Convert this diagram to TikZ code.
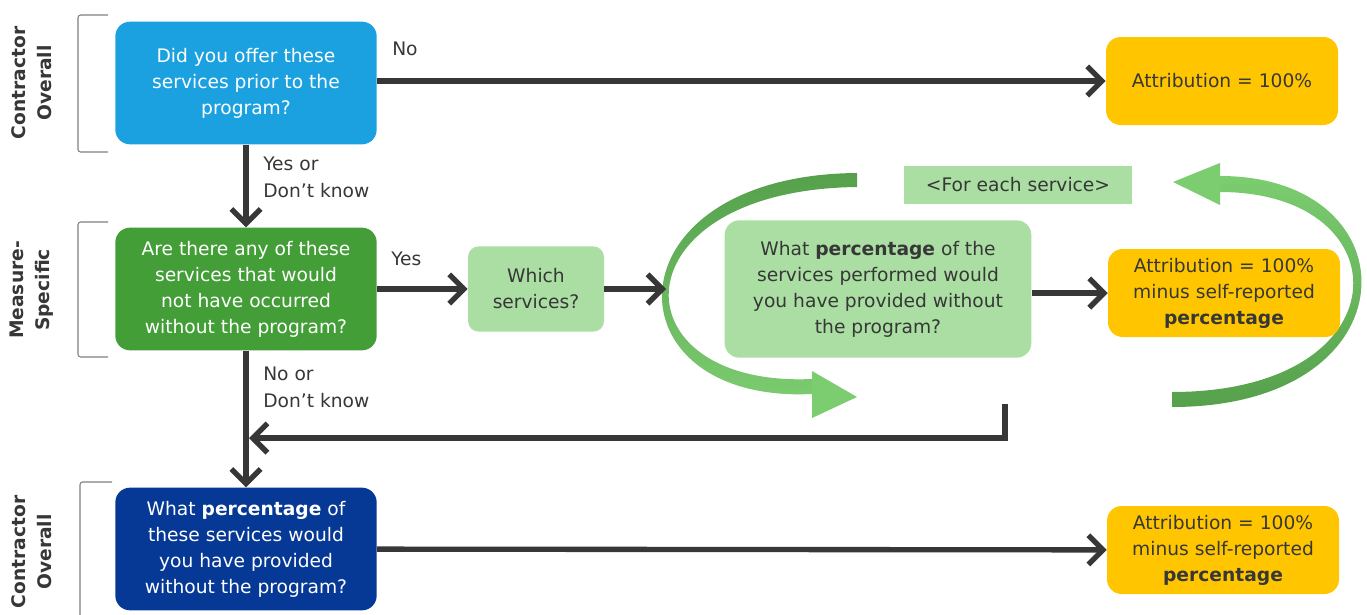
\documentclass[tikz,border=0pt]{standalone}
\usepackage{fontspec}
\setmainfont{DejaVu Sans}
\usetikzlibrary{arrows.meta}
\definecolor{skyblue}{RGB}{27,161,224}
\definecolor{midgreen}{RGB}{67,158,56}
\definecolor{palegreen}{RGB}{170,222,162}
\definecolor{gold}{RGB}{255,198,0}
\definecolor{navy}{RGB}{6,56,150}
\definecolor{darkgray}{RGB}{55,55,55}
\definecolor{loopdark}{RGB}{86,160,76}
\definecolor{looplight}{RGB}{124,204,112}
\begin{document}
\begin{tikzpicture}[x=0.75pt,y=-0.75pt,
    font=\fontsize{14}{19.5}\selectfont,
    box/.style={rounded corners=11pt,inner sep=0pt,align=center},
    question/.style={box,text=white,minimum width=196pt,minimum height=92pt},
    result/.style={box,fill=gold,text=darkgray,minimum width=174pt,minimum height=66pt},
    flow/.style={draw=darkgray,line width=4pt,-{Straight Barb[length=11pt,width=22pt]}},
    lbl/.style={anchor=west,align=left,text=darkgray,inner sep=0pt,font=\fontsize{14}{20}\selectfont},
    side/.style={rotate=90,align=center,text=darkgray,font=\fontsize{14}{19.5}\selectfont\bfseries},
    brk/.style={draw=gray,line width=0.8pt,rounded corners=2pt}]
  \useasboundingbox (0,0) rectangle (1367,614);
  % levels
  \draw[brk] (108,15) -- (78,15) -- (78,152) -- (108,152);
  \draw[brk] (108,222) -- (78,222) -- (78,357) -- (108,357);
  \draw[brk] (112,482) -- (80,482) -- (80,620);
  \node[side] (s1) at (32,83) {Contractor\\Overall};
  \node[side] (s2) at (32,290) {Measure-\\Specific};
  \node[side] (s3) at (32,552) {Contractor\\Overall};
  % loop around the service question
  \shade[top color=loopdark,bottom color=looplight]
    (857,173) .. controls (605,175) and (605,404) .. (812,394)
    -- (812,379) .. controls (614,388) and (614,190) .. (857,187) -- cycle;
  \fill[looplight] (812,371) -- (857,397) -- (812,418) -- cycle;
  \shade[top color=looplight,bottom color=loopdark]
    (1172,407) .. controls (1416,407) and (1416,176) .. (1220,176)
    -- (1220,192) .. controls (1405,192) and (1405,392) .. (1172,392) -- cycle;
  \fill[looplight] (1220,163) -- (1173,182) -- (1220,205) -- cycle;
  % boxes
  \node[question,fill=skyblue] (prior) at (246,83) {Did you offer these\\services prior to the\\program?};
  \node[result] (all) at (1222,81) {Attribution = 100\%};
  \node[question,fill=midgreen] (extra) at (246,289) {Are there any of these\\services that would\\not have occurred\\without the program?};
  \node[box,fill=palegreen,text=darkgray,minimum width=102pt,minimum height=64pt,rounded corners=8pt] (which) at (536,289) {Which\\services?};
  \node[box,fill=palegreen,text=darkgray,minimum width=230pt,minimum height=103pt] (each) at (878,289) {What \textbf{percentage} of the\\services performed would\\you have provided without\\the program?};
  \node[result] (part) at (1224,293) {Attribution = 100\%\\minus self-reported\\\textbf{percentage}};
  \node[fill=palegreen,text=darkgray,minimum width=171pt,minimum height=28.5pt,inner sep=0pt] (loop) at (1018,185) {<For each service>};
  \node[question,fill=navy] (rest) at (246,549) {What \textbf{percentage} of\\these services would\\you have provided\\without the program?};
  \node[result] (total) at (1223,550) {Attribution = 100\%\\minus self-reported\\\textbf{percentage}};
  % connectors
  \coordinate (ring) at (666,289);
  \coordinate (back) at (1005,404);
  \coordinate (join) at (249,438);
  \draw[flow] (prior.east |- all) -- (all);
  \draw[flow] (prior) -- (extra);
  \draw[flow] (extra) -- (which);
  \draw[flow] (which) -- (ring);
  \draw[flow] (each.east |- part) -- (part);
  \draw[flow] (back) |- (join);
  \draw[flow] (extra) -- (rest);
  \draw[flow] (rest) -- (total);
  \node[lbl] (no1) at (392,49) {No};
  \node[lbl] (yes1) at (263,177) {Yes or\\Don’t know};
  \node[lbl] (yes2) at (391,259) {Yes};
  \node[lbl] (no2) at (263,387) {No or\\Don’t know};
\end{tikzpicture}
\end{document}
